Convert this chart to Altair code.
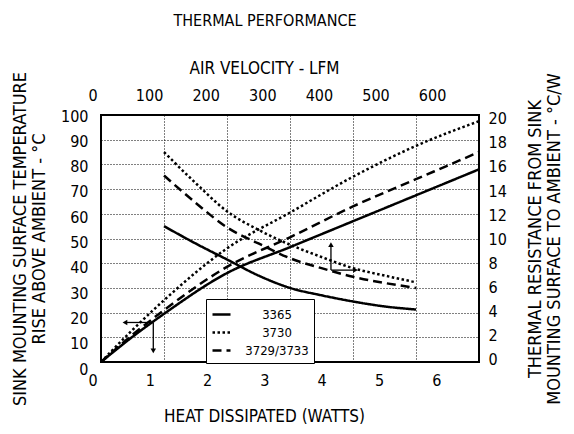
import altair as alt
import pandas as pd

FONT = "Liberation Sans Narrow, DejaVu Sans Condensed, Arial Narrow, sans-serif"

# ---- data ----
series = ["3365", "3730", "3729/3733"]

# temperature rise (left axis) vs heat dissipated (bottom axis)
watts = [0, 0.5, 1, 2, 3, 4, 5, 6]
rise_3365 = [0, 10.2, 19.5, 36, 46.5, 57, 67.5, 78]
rise_3730 = [0, 13, 25, 46, 60.5, 75, 87.5, 97.5]
rise_3729 = [0, 11, 21, 38.5, 50.5, 63, 74, 85]

# thermal resistance (right axis) vs air velocity (top axis)
lfm = [100, 150, 200, 250, 300, 350, 400, 450, 500]
res_3365 = [11.0, 9.6, 8.3, 7.0, 6.0, 5.4, 4.9, 4.5, 4.25]
res_3730 = [17.0, 14.5, 12.2, 10.7, 9.5, 8.5, 7.6, 7.0, 6.45]
res_3729 = [15.1, 12.9, 10.9, 9.6, 8.4, 7.6, 6.9, 6.4, 6.0]

# annotation arrows (in watts / deg C)
arrow_x = [0.83, 0.83, 3.65, 3.65]
arrow_y = [16, 16, 37.2, 37.2]
arrow_x2 = [0.38, 0.83, 3.65, 4.04]
arrow_y2 = [16, 4.5, 47.5, 37.2]
arrow_head = ["triangle-left", "triangle-down", "triangle-up", "triangle-right"]

x_ticks = [0, 1, 2, 3, 4, 5, 6]
y_ticks = list(range(0, 101, 10))
lfm_ticks = [0, 100, 200, 300, 400, 500, 600]
r_ticks = list(range(0, 21, 2))

# ---- tables ----
rise_df = pd.DataFrame({
    "watts": watts * 3,
    "temp": rise_3365 + rise_3730 + rise_3729,
    "series": [series[0]] * len(watts) + [series[1]] * len(watts) + [series[2]] * len(watts),
})
res_df = pd.DataFrame({
    "lfm": lfm * 3,
    "res": res_3365 + res_3730 + res_3729,
    "series": [series[0]] * len(lfm) + [series[1]] * len(lfm) + [series[2]] * len(lfm),
})
arrow_df = pd.DataFrame({"x": arrow_x, "y": arrow_y, "x2": arrow_x2, "y2": arrow_y2, "head": arrow_head})

# ---- scales / axes ----
xs = alt.Scale(domain=[0, 6], nice=False, zero=False)
ys = alt.Scale(domain=[0, 100], nice=False)
x_axis = alt.Axis(orient="bottom", values=x_ticks, title="HEAT DISSIPATED (WATTS)", grid=True,
                  labelPadding=10, titlePadding=20, titleX=163, labelFlush=False,
                  labelOffset={"expr": "-8.5 - 5.7*datum.value"})
y_axis = alt.Axis(orient="left", values=y_ticks,
                  title=["SINK MOUNTING SURFACE TEMPERATURE", "RISE ABOVE AMBIENT - °C"],
                  grid=True, labelPadding=13, titlePadding=12, titleFontSize=18, titleLineHeight=19,
                  labelFlush=False,
                  labelOffset={"expr": "7 - 0.06*datum.value"})

dash = alt.Scale(domain=series, range=[[1, 0], [2.5, 2.5], [9, 5]])
legend = alt.Legend(title=None, orient="none", legendX=105, legendY=184,
                    symbolType="stroke", symbolSize=324, symbolStrokeWidth=2.5,
                    symbolStrokeColor="black", labelAlign="center", labelOffset=45,
                    labelFontSize=13, labelFont=FONT, labelColor="black",
                    fillColor="white", strokeColor="black", padding=5, rowPadding=0)

rise = alt.Chart(rise_df).mark_line(color="black", strokeWidth=2.5, interpolate="monotone").encode(
    x=alt.X("watts:Q", scale=xs, axis=x_axis),
    y=alt.Y("temp:Q", scale=ys, axis=y_axis),
    strokeDash=alt.StrokeDash("series:N", scale=dash, legend=legend),
)

rules = alt.Chart(arrow_df).mark_rule(color="black", strokeWidth=1.3).encode(
    x=alt.X("x:Q", scale=xs, axis=x_axis),
    y=alt.Y("y:Q", scale=ys, axis=y_axis),
    x2="x2:Q",
    y2="y2:Q",
)
heads = alt.Chart(arrow_df).mark_point(color="black", filled=True, size=30, opacity=1).encode(
    x=alt.X("x2:Q", scale=xs, axis=x_axis),
    y=alt.Y("y2:Q", scale=ys, axis=y_axis),
    shape=alt.Shape("head:N", scale=None),
)

fall = alt.Chart(res_df).mark_line(color="black", strokeWidth=2.5, interpolate="monotone").encode(
    x=alt.X("lfm:Q", scale=alt.Scale(domain=[0, 600], nice=False),
            axis=alt.Axis(orient="top", values=lfm_ticks, title="AIR VELOCITY - LFM", grid=False,
                          labelPadding=12, titlePadding=10, titleX=163, labelFlush=False,
                          labelOffset={"expr": "-8.5 - 0.064*datum.value"})),
    y=alt.Y("res:Q", scale=alt.Scale(domain=[0, 20], nice=False),
            axis=alt.Axis(orient="right", values=r_ticks, grid=False, labelFlush=False,
                          title=["THERMAL RESISTANCE FROM SINK", "MOUNTING SURFACE TO AMBIENT - °C/W"],
                          titleAngle=270, labelPadding=9, titlePadding=19, titleFontSize=18,
                          titleLineHeight=19,
                          labelOffset={"expr": "-2.3 + 0.3*datum.value"})),
    strokeDash=alt.StrokeDash("series:N", scale=dash, legend=legend),
)

chart = alt.layer(alt.layer(rise, rules, heads), fall).resolve_scale(
    x="independent", y="independent"
).properties(
    width=378, height=247,
    autosize=alt.AutoSizeParams(type="none"),
    padding={"left": 93, "top": 107, "right": 87, "bottom": 70},
    title=alt.TitleParams("THERMAL PERFORMANCE", anchor="middle", dx=-25, offset=30,
                          font=FONT, fontSize=16, fontWeight="normal", color="black"),
).configure_view(
    stroke="black", strokeWidth=2
).configure_axis(
    labelFont=FONT, titleFont=FONT, labelFontSize=16, titleFontSize=17,
    labelColor="black", titleColor="black", titleFontWeight="normal",
    ticks=False, domain=False,
    gridColor="black", gridDash=[1, 2], gridWidth=1, gridOpacity=1,
)

chart.save("out.html", embed_options={"renderer": "svg", "actions": False})
